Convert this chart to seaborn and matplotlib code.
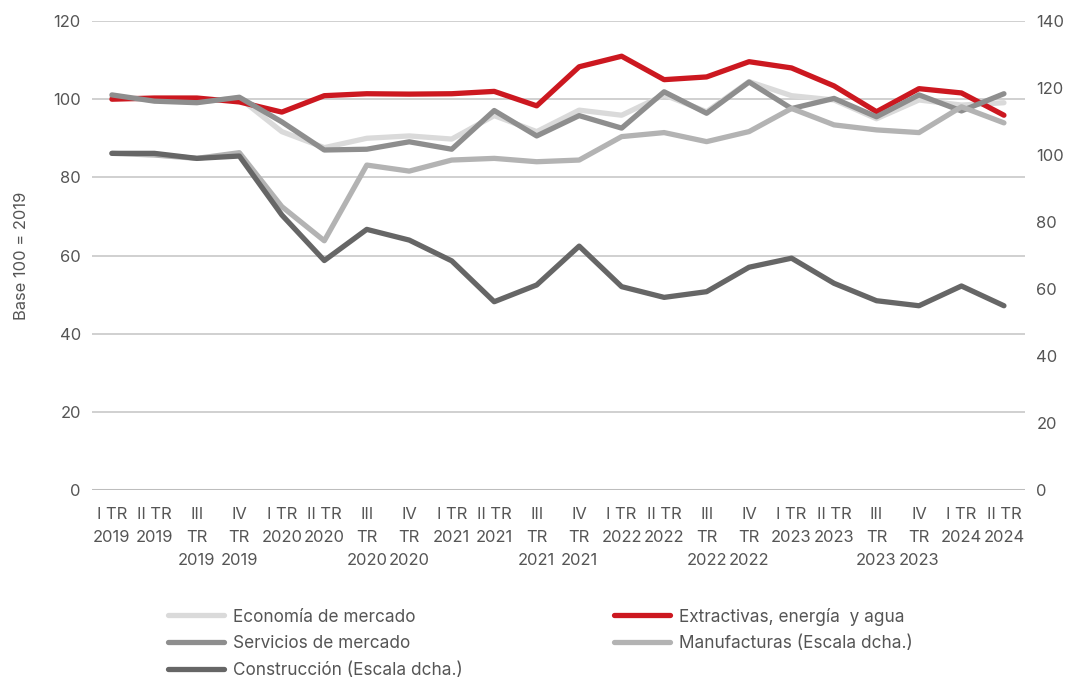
import matplotlib
matplotlib.use("Agg")
import matplotlib.pyplot as plt
import seaborn as sns
import pandas as pd
import numpy as np

categories = [
    "I TR\n2019", "II TR\n2019", "III\nTR\n2019", "IV\nTR\n2019",
    "I TR\n2020", "II TR\n2020", "III\nTR\n2020", "IV\nTR\n2020",
    "I TR\n2021", "II TR\n2021", "III\nTR\n2021", "IV\nTR\n2021",
    "I TR\n2022", "II TR\n2022", "III\nTR\n2022", "IV\nTR\n2022",
    "I TR\n2023", "II TR\n2023", "III\nTR\n2023", "IV\nTR\n2023",
    "I TR\n2024", "II TR\n2024",
]

# Left axis (Base 100 = 2019)
economia = [100.5, 99.8, 99.3, 100.3, 91.7, 87.6, 90.0, 90.6, 89.8, 95.8, 91.7,
            97.2, 95.9, 101.1, 96.8, 104.5, 100.9, 99.8, 95.0, 99.8, 98.5, 99.1]
extractivas = [100.0, 100.3, 100.3, 99.3, 96.7, 100.9, 101.4, 101.3, 101.4, 102.0, 98.3,
               108.3, 111.0, 105.0, 105.7, 109.6, 108.0, 103.4, 96.8, 102.7, 101.6, 95.9]
servicios = [101.1, 99.5, 99.1, 100.5, 94.2, 87.0, 87.2, 89.1, 87.2, 97.1, 90.6,
             95.8, 92.6, 101.9, 96.4, 104.4, 97.6, 100.2, 95.5, 101.1, 97.0, 101.4]
# Right axis
manufacturas = [100.5, 100.0, 99.0, 100.7, 84.6, 74.4, 97.0, 95.2, 98.5, 99.0, 98.0,
                98.5, 105.5, 106.7, 104.0, 107.0, 113.9, 109.0, 107.5, 106.7, 114.4, 109.6]
construccion = [100.5, 100.5, 99.0, 99.7, 82.1, 68.5, 77.8, 74.6, 68.4, 56.2, 61.2,
                72.8, 60.7, 57.5, 59.2, 66.5, 69.2, 61.7, 56.5, 55.0, 60.9, 55.0]

left_ticks = [0, 20, 40, 60, 80, 100, 120]
right_ticks = [0, 20, 40, 60, 80, 100, 120, 140]

labels = {
    "economia": "Economía de mercado",
    "extractivas": "Extractivas, energía  y agua",
    "servicios": "Servicios de mercado",
    "manufacturas": "Manufacturas (Escala dcha.)",
    "construccion": "Construcción (Escala dcha.)",
}
colors = {
    "economia": "#dadada",
    "extractivas": "#cc1820",
    "servicios": "#8e8e8e",
    "manufacturas": "#b3b3b3",
    "construccion": "#666666",
}

sns.set_style("white")
plt.rcParams["font.family"] = ["Inter", "DejaVu Sans"]
text_color = "#555555"
fs = 11.9
fs_leg = 12.4

x = np.arange(len(categories))
df = pd.DataFrame({
    "x": x,
    "economia": economia, "extractivas": extractivas, "servicios": servicios,
    "manufacturas": manufacturas, "construccion": construccion,
})

fig = plt.figure(figsize=(10.78, 6.79), dpi=100)
ax = fig.add_axes([0.0853, 0.2784, 0.951 - 0.0853, 0.969 - 0.2784])
ax2 = ax.twinx()

lw = 3.8
handles = {}
for key in ["economia", "extractivas", "servicios"]:
    sns.lineplot(data=df, x="x", y=key, ax=ax, color=colors[key], linewidth=lw,
                 solid_capstyle="round", label=labels[key], legend=False)
    handles[key] = ax.lines[-1]
for key in ["manufacturas", "construccion"]:
    sns.lineplot(data=df, x="x", y=key, ax=ax2, color=colors[key], linewidth=lw,
                 solid_capstyle="round", label=labels[key], legend=False)
    handles[key] = ax2.lines[-1]

ax.set_ylim(0, 120)
ax2.set_ylim(0, 140)
ax.set_xlim(-0.47, 21.5)
ax.set_yticks(left_ticks)
ax2.set_yticks(right_ticks)
ax.set_xticks(x)
ax.set_xticklabels(categories, linespacing=1.7)

for t in left_ticks[1:]:
    ax.axhline(t, color="#c4c4c4", linewidth=1.1, zorder=0)
ax.axhline(0, color="#bdbdbd", linewidth=2.2, zorder=0)

for a in (ax, ax2):
    for s in a.spines.values():
        s.set_visible(False)
    a.tick_params(length=0, labelsize=fs, colors=text_color)
    a.set_xlabel("")
    a.grid(False)
ax2.set_ylabel("")
ax.tick_params(axis="y", pad=8)
ax2.tick_params(axis="y", pad=8)
ax.tick_params(axis="x", pad=12)
ax.set_ylabel("Base 100 = 2019", fontsize=fs, color=text_color, labelpad=17)

order = ["economia", "servicios", "construccion", "extractivas", "manufacturas"]
fig.legend([handles[k] for k in order], [labels[k] for k in order],
           loc="upper center", bbox_to_anchor=(0.5014, 1 - 592 / 679), ncol=2,
           frameon=False, fontsize=fs_leg, handlelength=3.25, handletextpad=0.52,
           columnspacing=8.8, labelspacing=0.58, labelcolor=text_color)

fig.savefig("out.png", dpi=100)
